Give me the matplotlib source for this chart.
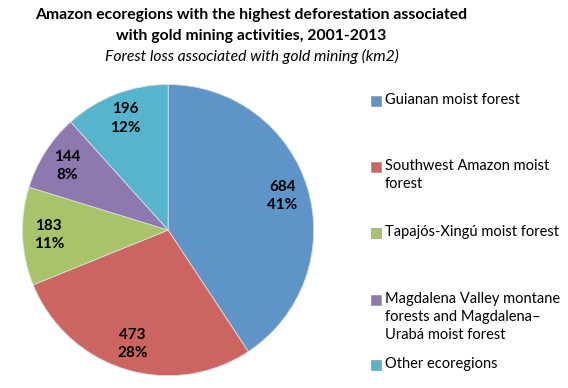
import matplotlib.pyplot as plt
from matplotlib.patches import Rectangle

plt.rcParams['font.family'] = ['Lato', 'DejaVu Sans']

regions = ['Guianan moist forest',
           'Southwest Amazon moist\nforest',
           'Tapajós-Xingú moist forest',
           'Magdalena Valley montane\nforests and Magdalena–\nUrabá moist forest',
           'Other ecoregions']
loss_km2 = [684, 473, 183, 144, 196]
pct_labels = ['41%', '28%', '11%', '8%', '12%']
colors = ['#5F94C9', '#CC6560', '#A8C46B', '#8D78B0', '#56B5CD']

fig = plt.figure(figsize=(5.68, 3.88), dpi=100)
ax = fig.add_axes([0.037, 0.028, 0.518, 0.758])

labels = [f'{v}\n{p}' for v, p in zip(loss_km2, pct_labels)]
wedges, texts = ax.pie(loss_km2, colors=colors, startangle=90, counterclock=False,
                       labels=labels, labeldistance=0.82,
                       wedgeprops=dict(edgecolor='#dddddd', linewidth=0.6),
                       textprops=dict(fontsize=11, fontweight='bold', ha='center',
                                      va='center', linespacing=1.4))
for t in texts:
    t.set_horizontalalignment('center')
ax.set_xlim(-1.01, 1.01)
ax.set_ylim(-1.01, 1.01)
ax.set_aspect('equal')

# title
fig.text(0.443, 0.962, 'Amazon ecoregions with the highest deforestation associated',
         ha='center', va='center', fontsize=11.3, fontweight='bold')
fig.text(0.443, 0.907, 'with gold mining activities, 2001-2013',
         ha='center', va='center', fontsize=11.3, fontweight='bold')
fig.text(0.443, 0.855, 'Forest loss associated with gold mining (km2)',
         ha='center', va='center', fontsize=11.3, style='italic')

# legend, placed like the original
leg_y = [101, 167, 233, 300, 365]
for name, c, y in zip(regions, colors, leg_y):
    yf = 1 - y / 388
    fig.patches.append(Rectangle((371 / 568, yf - 5 / 388), 10 / 568, 10 / 388,
                                 transform=fig.transFigure, facecolor=c,
                                 edgecolor='#888888', linewidth=0.4))
    fig.text(385 / 568, yf + 8 / 388, name, ha='left', va='top', fontsize=10.5,
             linespacing=1.35)

fig.savefig('out.png', dpi=100)
